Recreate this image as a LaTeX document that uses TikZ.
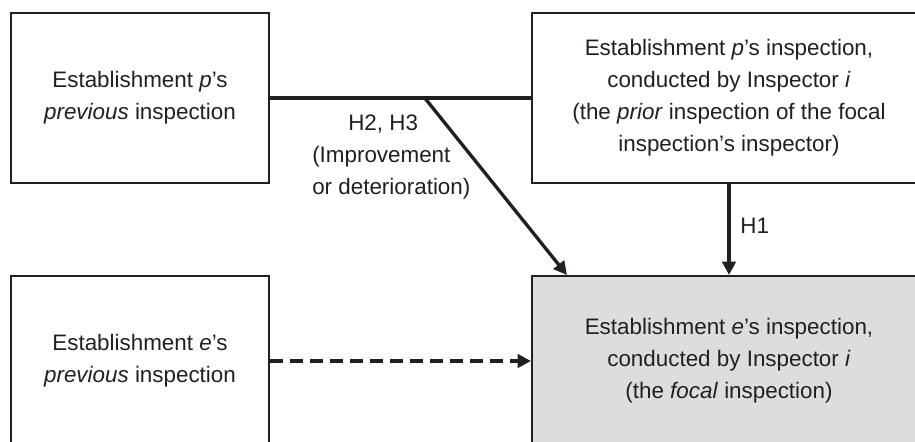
\documentclass[tikz,border=0pt]{standalone}
\usepackage{fontspec}
\setmainfont{Liberation Sans}
\usetikzlibrary{arrows.meta}

\definecolor{ink}{RGB}{35,31,32}
\definecolor{focalgrey}{RGB}{220,221,223}

\tikzset{
  link/.style={line width=2.5pt, draw=ink},
  smallbox/.style={minimum width=193.5pt, minimum height=127.5pt},
  widebox/.style={minimum width=295.5pt, minimum height=127.5pt}
}

\begin{document}
\begin{tikzpicture}[x=0.75pt,y=-0.75pt,>={Triangle[length=10pt,width=10pt]},
    font=\fontsize{16.8}{24}\selectfont]
    \useasboundingbox (0,0) rectangle (915,442);
    \clip (0,0) rectangle (915,442);
    \matrix[matrix anchor=prevp.center, row sep=68.25pt, column sep=195.75pt,
          nodes={draw=ink, line width=1.5pt, align=center, text=ink}] at (140,98) {
      % Top Row (establishment p)
      \node [smallbox] (prevp) {Establishment \textit{p}’s\\\textit{previous} inspection}; &
      \node [widebox] (priorp) {Establishment \textit{p}’s inspection,\\conducted by Inspector \textit{i}\\(the \textit{prior} inspection of the focal\\inspection’s inspector)};\\
      % Bottom Row (establishment e)
      \node [smallbox] (preve) {Establishment \textit{e}’s\\\textit{previous} inspection}; &
      \node [widebox, fill=focalgrey] (focal) {Establishment \textit{e}’s inspection,\\conducted by Inspector \textit{i}\\(the \textit{focal} inspection)};\\
    };
    \path (prevp.east) -- (priorp.west) coordinate[pos=0.593] (split);
    \coordinate (hit) at ([xshift=27pt]focal.north west);
    \begin{scope}[every node/.style={text=ink}]
      \draw [link] (prevp) -- (priorp);
      \draw [link, ->] (split) -- (hit);
      \draw [link, ->] (priorp) -- node[midway, right, xshift=4pt, yshift=3pt] (h1) {H1} (focal);
      \draw [link, dash pattern=on 9.75pt off 5.25pt, ->] (preve) -- (focal);
      \node [align=left, anchor=west, inner sep=0pt] (h23) at (312,157) {\hspace*{27pt}H2, H3\\(Improvement\\or deterioration)};
    \end{scope}
\end{tikzpicture}
\end{document}
